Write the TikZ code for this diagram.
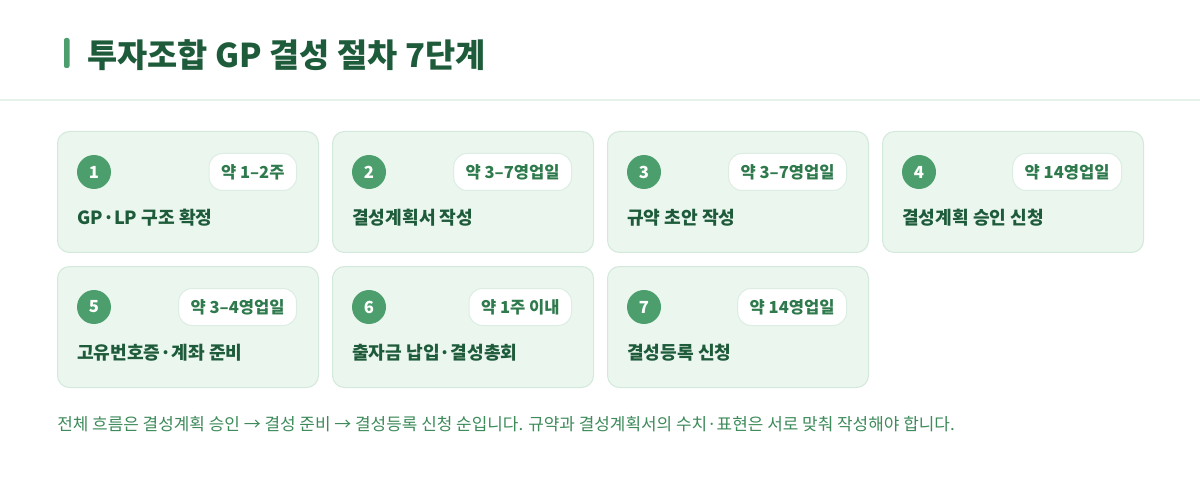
\documentclass[tikz,border=0pt]{standalone}
\usepackage{fontspec}
\setmainfont{Noto Sans CJK KR}
\newfontfamily\kr{Noto Sans CJK KR}
\definecolor{cardfill}{HTML}{EBF6EF}
\definecolor{cardline}{HTML}{D3E9DB}
\definecolor{accent}{HTML}{4C9F6C}
\definecolor{darkg}{HTML}{1E5B3A}
\definecolor{pilltext}{HTML}{2F7A4D}
\definecolor{pillline}{HTML}{DCEEE3}
\definecolor{foot}{HTML}{3D8B5A}
\definecolor{rule}{HTML}{E6F3EC}
\tikzset{
  card/.style={draw=cardline, line width=0.75pt, fill=cardfill, rounded corners=9pt, minimum width=195.75pt, minimum height=90.75pt, inner sep=0pt},
  numdot/.style={circle, fill=accent, minimum size=25.5pt, inner sep=0pt, text=white, font=\kr\bfseries\fontsize{12.5}{14}\selectfont},
  pill/.style={draw=pillline, line width=0.75pt, fill=white, rounded corners=10pt, minimum height=27.75pt, inner xsep=9pt, inner ysep=0pt, text=pilltext, font=\kr\bfseries\fontsize{12.4}{14}\selectfont, anchor=east},
  steptitle/.style={anchor=west, inner sep=0pt, text=darkg, font=\kr\bfseries\fontsize{13.6}{16}\selectfont},
}
\begin{document}
\begin{tikzpicture}[x=0.75pt,y=-0.75pt]
\useasboundingbox[fill=white] (0,0) rectangle (1200,481);
% header
\fill[accent, rounded corners=1.5pt] (64,38) rectangle (69.5,68);
\node[anchor=west, inner sep=0pt, text=darkg, font=\kr\bfseries\fontsize{24.6}{28}\selectfont] (title) at (87,55) {투자조합 GP 결성 절차 7단계};
\draw[rule, line width=1.5pt] (0,100.5) -- (1200,100.5);
% cards
\foreach \n/\col/\row/\dur/\txt in {
  1/0/0/{약 1–2주}/{GP·LP 구조 확정},
  2/1/0/{약 3–7영업일}/{결성계획서 작성},
  3/2/0/{약 3–7영업일}/{규약 초안 작성},
  4/3/0/{약 14영업일}/{결성계획 승인 신청},
  5/0/1/{약 3–4영업일}/{고유번호증·계좌 준비},
  6/1/1/{약 1주 이내}/{출자금 납입·결성총회},
  7/2/1/{약 14영업일}/{결성등록 신청}}{
  \pgfmathsetmacro{\xo}{57+275*\col}
  \pgfmathsetmacro{\yo}{131+135*\row}
  \node[card, anchor=north west] (card\n) at (\xo,\yo) {};
  \node[numdot] (num\n) at (\xo+37,\yo+41) {\n};
  \node[pill] (dur\n) at (\xo+240,\yo+41) {\dur};
  \node[steptitle] (lab\n) at (\xo+20,\yo+87) {\txt};
}
% footer
\node[anchor=west, inner sep=0pt, text=foot, font=\kr\fontsize{12.7}{15}\selectfont] (note) at (57,424) {전체 흐름은 결성계획 승인 → 결성 준비 → 결성등록 신청 순입니다. 규약과 결성계획서의 수치·표현은 서로 맞춰 작성해야 합니다.};
\end{tikzpicture}
\end{document}
